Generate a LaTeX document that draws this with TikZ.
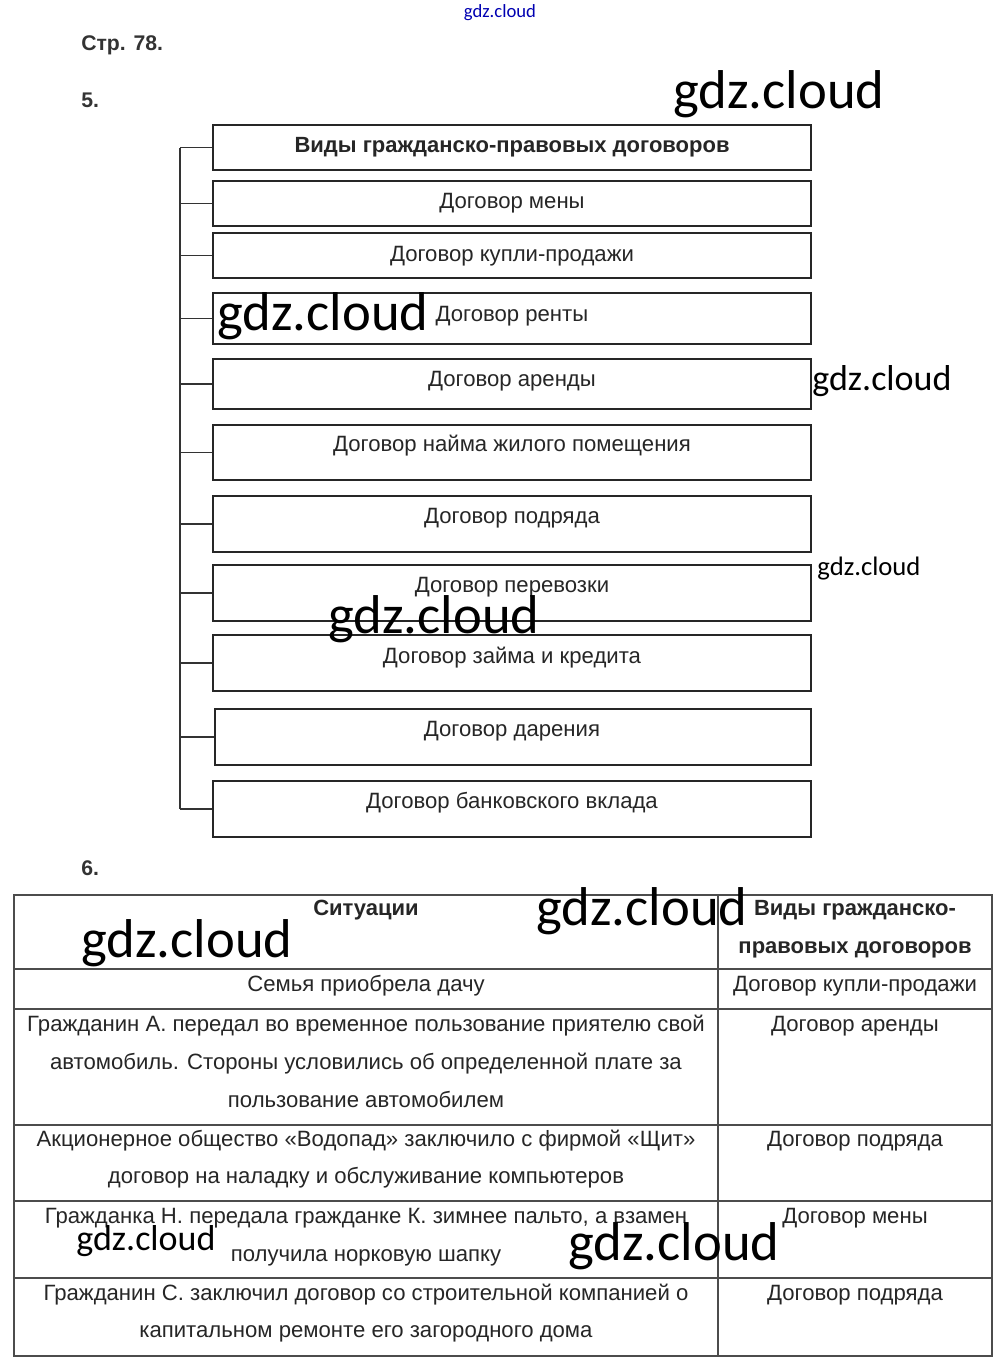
\documentclass[tikz,border=0pt]{standalone}
\usepackage{fontspec}
\setmainfont{Liberation Sans}
\newfontfamily\wmfont{Carlito}
\begin{document}
\begin{tikzpicture}[x=0.75pt,y=-0.75pt,
  box/.style={draw=black!85,line width=1.5pt,minimum width=598*0.75pt,inner sep=0pt},
  lbl/.style={font=\fontsize{16.6pt}{19pt}\selectfont,text=black!85,inner sep=0pt,anchor=base},
  hdr/.style={font=\bfseries\fontsize{16.5pt}{19pt}\selectfont,text=black!85,inner sep=0pt,anchor=base},
  cell/.style={font=\fontsize{16.6pt}{19pt}\selectfont,text=black!85,inner sep=0pt,anchor=base},
  cellb/.style={font=\bfseries\fontsize{16.5pt}{19pt}\selectfont,text=black!85,inner sep=0pt,anchor=base},
  wm/.style={font=\wmfont\fontsize{41pt}{48pt}\selectfont,inner sep=0pt,anchor=base},
  conn/.style={draw=black!80,line width=0.8pt},
  grid/.style={draw=black!70,line width=1pt}]
\useasboundingbox (0,0) rectangle (1000,1365);
\fill[white] (0,0) rectangle (1000,1365);

% top texts
\node[font=\wmfont\fontsize{14pt}{16pt}\selectfont,text=blue!70!black,inner sep=0pt,anchor=base] (wm0) at (500,17) {gdz.cloud};
\node[font=\bfseries\fontsize{15.9pt}{18pt}\selectfont,text=black!80,inner sep=0pt,anchor=base west] (p78) at (81,50) {Стр. 78.};
\node[font=\bfseries\fontsize{15.9pt}{18pt}\selectfont,text=black!80,inner sep=0pt,anchor=base west] (n5) at (81,107) {5.};
\node[font=\bfseries\fontsize{15.9pt}{18pt}\selectfont,text=black!80,inner sep=0pt,anchor=base west] (n6) at (81,875) {6.};

% boxes
\node[box,minimum height=45*0.75pt] (b1) at (512,147.5) {};
\node[box,minimum height=45*0.75pt] (b2) at (512,203.5) {};
\node[box,minimum height=45*0.75pt] (b3) at (512,255.5) {};
\node[box,minimum height=51*0.75pt] (b4) at (512,318.5) {};
\node[box,minimum height=50*0.75pt] (b5) at (512,384) {};
\node[box,minimum height=55*0.75pt] (b6) at (512,452.5) {};
\node[box,minimum height=56*0.75pt] (b7) at (512,524) {};
\node[box,minimum height=56*0.75pt] (b8) at (512,593) {};
\node[box,minimum height=56*0.75pt] (b9) at (512,663) {};
\node[box,minimum height=56*0.75pt,minimum width=596*0.75pt] (b10) at (513,737) {};
\node[box,minimum height=56*0.75pt] (b11) at (512,809) {};

\node[hdr] (t1) at (512,152) {Виды гражданско-правовых договоров};
\node[lbl] (t2) at (512,208) {Договор мены};
\node[lbl] (t3) at (512,261) {Договор купли-продажи};
\node[lbl] (t4) at (512,321) {Договор ренты};
\node[lbl] (t5) at (512,386) {Договор аренды};
\node[lbl] (t6) at (512,451) {Договор найма жилого помещения};
\node[lbl] (t7) at (512,523) {Договор подряда};
\node[lbl] (t8) at (512,592) {Договор перевозки};
\node[lbl] (t9) at (512,663) {Договор займа и кредита};
\node[lbl] (t10) at (512,736) {Договор дарения};
\node[lbl] (t11) at (512,808) {Договор банковского вклада};

% connector
\coordinate (top) at (180,147.5);
\coordinate (bot) at (180,809);
\draw[conn] (top) -- (bot);
\foreach \b in {b1,b2,b3,b4,b5,b6,b7,b8,b9,b10,b11}{
  \draw[conn] (\b.west) -- (\b.west -| top);
}

% table
\draw[grid] (14,895) rectangle (992,1356);
\draw[grid] (718,895) -- (718,1356);
\foreach \y in {969,1009,1125,1201,1278}{
  \draw[grid] (14,\y) -- (992,\y);
}
\node[cellb] (h1) at (366,915) {Ситуации};
\node[cellb] (h2a) at (855,915) {Виды гражданско-};
\node[cellb] (h2b) at (855,953) {правовых договоров};

\node[cell] (r1a) at (366,991) {Семья приобрела дачу};
\node[cell] (r1b) at (855,991) {Договор купли-продажи};

\node[cell] (r2a) at (366,1031) {Гражданин А. передал во временное пользование приятелю свой};
\node[cell] (r2b) at (366,1069) {автомобиль. Стороны условились об определенной плате за};
\node[cell] (r2c) at (366,1107) {пользование автомобилем};
\node[cell] (r2d) at (855,1031) {Договор аренды};

\node[cell] (r3a) at (366,1146) {Акционерное общество «Водопад» заключило с фирмой «Щит»};
\node[cell] (r3b) at (366,1183) {договор на наладку и обслуживание компьютеров};
\node[cell] (r3c) at (855,1146) {Договор подряда};

\node[cell] (r4a) at (366,1223) {Гражданка Н. передала гражданке К. зимнее пальто, а взамен};
\node[cell] (r4b) at (366,1261) {получила норковую шапку};
\node[cell] (r4c) at (855,1223) {Договор мены};

\node[cell] (r5a) at (366,1300) {Гражданин С. заключил договор со строительной компанией о};
\node[cell] (r5b) at (366,1337) {капитальном ремонте его загородного дома};
\node[cell] (r5c) at (855,1300) {Договор подряда};

% watermarks
\node[wm] (w1) at (779,108) {gdz.cloud};
\node[wm] (w2) at (323,330) {gdz.cloud};
\node[wm,font=\wmfont\fontsize{27pt}{32pt}\selectfont] (w3) at (882,390) {gdz.cloud};
\node[wm,font=\wmfont\fontsize{20pt}{24pt}\selectfont] (w4) at (869,575) {gdz.cloud};
\node[wm] (w5) at (434,633) {gdz.cloud};
\node[wm] (w6) at (642,925) {gdz.cloud};
\node[wm] (w7) at (187,957) {gdz.cloud};
\node[wm,font=\wmfont\fontsize{27pt}{32pt}\selectfont] (w8) at (146,1250) {gdz.cloud};
\node[wm] (w9) at (674,1260) {gdz.cloud};
\end{tikzpicture}
\end{document}
